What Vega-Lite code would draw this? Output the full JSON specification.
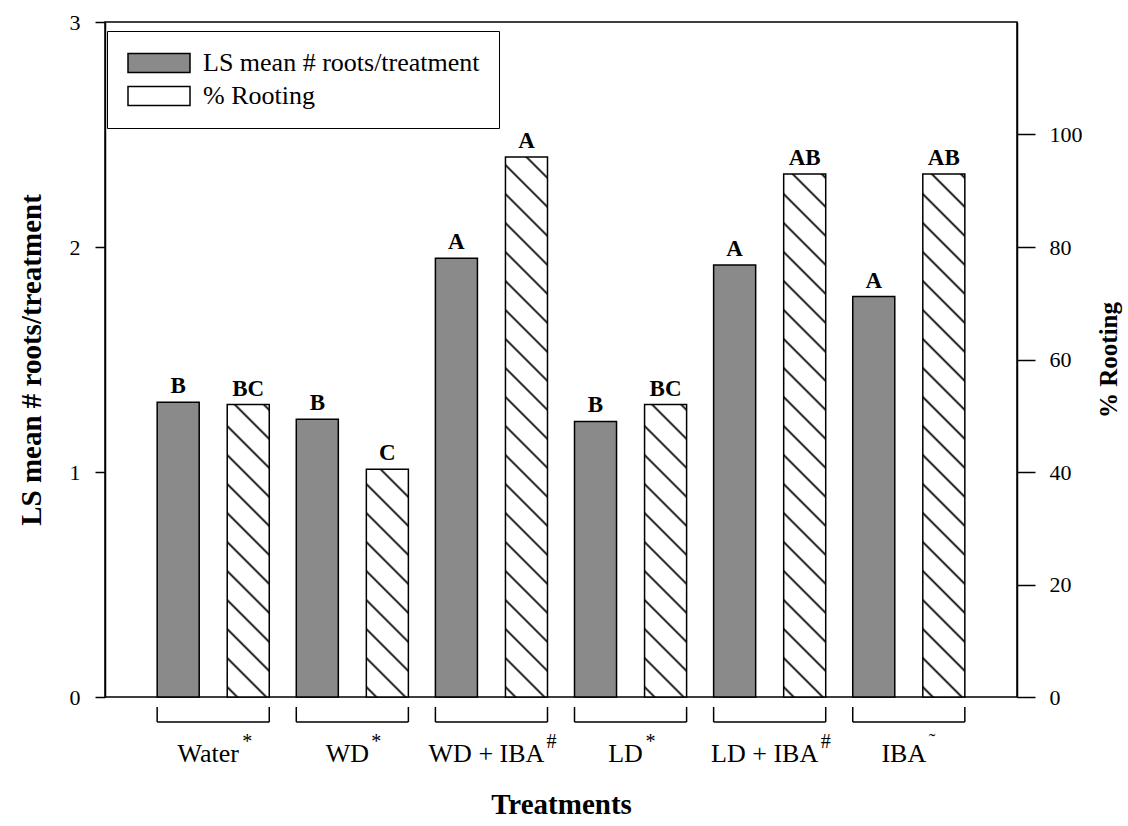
{
  "$schema": "https://vega.github.io/schema/vega-lite/v6.json",
  "width": 912,
  "height": 675,
  "autosize": {"type": "none"},
  "padding": {"left": 105, "top": 22, "right": 111, "bottom": 129},
  "background": "white",
  "config": {
    "view": {"stroke": "black", "strokeWidth": 1.5},
    "font": "Liberation Serif",
    "axis": {"labelFont": "Liberation Serif", "titleFont": "Liberation Serif", "labelColor": "black", "titleColor": "black", "domainColor": "black", "tickColor": "black", "domainWidth": 1.5, "tickWidth": 1.5, "grid": false},
    "legend": {"labelFont": "Liberation Serif", "labelColor": "black"}
  },
  "datasets": {
    "bars": [
      {"t": "Water", "series": "LS", "value": 1.31, "letter": "B"},
      {"t": "Water", "series": "Rooting", "value": 52, "letter": "BC"},
      {"t": "WD", "series": "LS", "value": 1.235, "letter": "B"},
      {"t": "WD", "series": "Rooting", "value": 40.5, "letter": "C"},
      {"t": "WD + IBA", "series": "LS", "value": 1.95, "letter": "A"},
      {"t": "WD + IBA", "series": "Rooting", "value": 96, "letter": "A"},
      {"t": "LD", "series": "LS", "value": 1.225, "letter": "B"},
      {"t": "LD", "series": "Rooting", "value": 52, "letter": "BC"},
      {"t": "LD + IBA", "series": "LS", "value": 1.92, "letter": "A"},
      {"t": "LD + IBA", "series": "Rooting", "value": 93, "letter": "AB"},
      {"t": "IBA", "series": "LS", "value": 1.78, "letter": "A"},
      {"t": "IBA", "series": "Rooting", "value": 93, "letter": "AB"}
    ],
    "groups": [
      {"t": "Water", "sup": "*"},
      {"t": "WD", "sup": "*"},
      {"t": "WD + IBA", "sup": "#"},
      {"t": "LD", "sup": "*"},
      {"t": "LD + IBA", "sup": "#"},
      {"t": "IBA", "sup": "˜"}
    ]
  },
  "layer": [
    {
      "layer": [
        {
          "data": {"name": "bars"},
          "transform": [{"filter": "datum.series == 'LS'"}],
          "mark": {"type": "bar", "stroke": "black", "strokeWidth": 1.5},
          "encoding": {
            "x": {"field": "t", "type": "nominal", "sort": null,
              "scale": {"domain": ["Water", "WD", "WD + IBA", "LD", "LD + IBA", "IBA"], "paddingInner": 0.19424, "paddingOuter": 0.375},
              "axis": {"title": "Treatments", "labels": false, "ticks": false, "domain": false, "titleFontSize": 29, "titleFontWeight": "bold", "titlePadding": 93}},
            "xOffset": {"field": "series", "type": "nominal", "scale": {"domain": ["LS", "Rooting"], "paddingInner": 0.4, "paddingOuter": 0}},
            "y": {"field": "value", "type": "quantitative", "scale": {"domain": [0, 3]},
              "axis": {"orient": "left", "title": "LS mean # roots/treatment", "values": [0, 1, 2, 3], "format": "d",
                "tickSize": 10, "labelFontSize": 22, "labelPadding": 15,
                "titleFontSize": 29, "titleFontWeight": "bold", "titleAngle": 270, "titleX": -74, "titleY": 337.5, "titleAlign": "center", "titleBaseline": "middle"}},
            "fill": {"datum": "LS mean # roots/treatment", "type": "nominal",
              "scale": {"domain": ["LS mean # roots/treatment", "% Rooting"], "range": ["#8a8a8a", "white"]},
              "legend": {"title": null, "orient": "none", "legendX": 2, "legendY": 9, "padding": 19, "strokeColor": "black", "fillColor": "white",
                "labelFontSize": 26, "labelLimit": 500, "labelOffset": 31, "rowPadding": 7,
                "symbolType": "M-3.263,-1H3.263V1H-3.263Z", "symbolSize": 361, "symbolOffset": 20, "symbolStrokeWidth": 1.5,
                "encode": {
                  "legend": {"update": {"strokeWidth": {"value": 1.5}}},
                  "symbols": {"update": {"stroke": {"value": "black"}, "strokeWidth": {"value": 1.5}}}}}}
          }
        },
        {
          "data": {"name": "bars"},
          "transform": [{"filter": "datum.series == 'LS'"}],
          "mark": {"type": "text", "fontWeight": "bold", "fontSize": 23, "baseline": "alphabetic", "dy": -9, "color": "black"},
          "encoding": {
            "x": {"field": "t", "type": "nominal", "sort": null},
            "xOffset": {"field": "series", "type": "nominal"},
            "y": {"field": "value", "type": "quantitative"},
            "text": {"field": "letter"}
          }
        },
        {
          "data": {"name": "groups"},
          "mark": {"type": "rule", "stroke": "black", "strokeWidth": 1.5},
          "encoding": {
            "x": {"field": "t", "type": "nominal", "sort": null, "bandPosition": 0},
            "y": {"datum": -0.1111},
            "y2": {"datum": -0.0444}
          }
        },
        {
          "data": {"name": "groups"},
          "mark": {"type": "rule", "stroke": "black", "strokeWidth": 1.5},
          "encoding": {
            "x": {"field": "t", "type": "nominal", "sort": null, "bandPosition": 1},
            "y": {"datum": -0.1111},
            "y2": {"datum": -0.0444}
          }
        },
        {
          "data": {"name": "groups"},
          "mark": {"type": "bar", "fill": "black", "stroke": "black", "strokeWidth": 1.5},
          "encoding": {
            "x": {"field": "t", "type": "nominal", "sort": null},
            "y": {"datum": -0.1111},
            "y2": {"datum": -0.1111}
          }
        },
        {
          "data": {"name": "groups"},
          "mark": {"type": "text", "fontSize": 26, "baseline": "alphabetic", "align": "center", "dx": -5, "color": "black"},
          "encoding": {
            "x": {"field": "t", "type": "nominal", "sort": null},
            "y": {"datum": -0.2889},
            "text": {"field": "t"}
          }
        },
        {
          "data": {"name": "groups"},
          "mark": {"type": "text", "fontSize": 20, "baseline": "alphabetic", "align": "left", "color": "black",
            "dx": {"expr": "datum.t == 'Water' ? 29 : datum.t == 'WD' ? 19 : datum.t == 'WD + IBA' ? 55 : datum.t == 'LD' ? 15 : datum.t == 'LD + IBA' ? 51 : 20"}},
          "encoding": {
            "x": {"field": "t", "type": "nominal", "sort": null},
            "y": {"datum": -0.2267},
            "text": {"field": "sup"}
          }
        }
      ]
    },
    {
      "layer": [
        {
          "data": {"name": "bars"},
          "transform": [{"filter": "datum.series == 'Rooting'"}],
          "mark": {"type": "bar", "stroke": "black", "strokeWidth": 1.5},
          "encoding": {
            "x": {"field": "t", "type": "nominal", "sort": null},
            "xOffset": {"field": "series", "type": "nominal"},
            "y": {"field": "value", "type": "quantitative", "scale": {"domain": [0, 120]},
              "axis": {"orient": "right", "title": "% Rooting", "values": [0, 20, 40, 60, 80, 100], "tickSize": 18, "labelPadding": 14, "labelFontSize": 22,
                "titleFontSize": 25, "titleFontWeight": "bold", "titleAngle": 270, "titleX": 91, "titleY": 337.5, "titleAlign": "center", "titleBaseline": "middle"}},
            "fill": {
              "condition": [
                {"test": "datum.value > 95", "value": {"gradient": "linear", "x1": 0, "y1": 1, "x2": 0.0859, "y2": -0.10443, "stops": [{"offset":0.0125,"color":"#fff"},{"offset":0.01667,"color":"#000"},{"offset":0.02083,"color":"#fff"},{"offset":0.06083,"color":"#fff"},{"offset":0.065,"color":"#000"},{"offset":0.06917,"color":"#fff"},{"offset":0.10917,"color":"#fff"},{"offset":0.11333,"color":"#000"},{"offset":0.1175,"color":"#fff"},{"offset":0.1575,"color":"#fff"},{"offset":0.16167,"color":"#000"},{"offset":0.16583,"color":"#fff"},{"offset":0.20583,"color":"#fff"},{"offset":0.21,"color":"#000"},{"offset":0.21417,"color":"#fff"},{"offset":0.25417,"color":"#fff"},{"offset":0.25833,"color":"#000"},{"offset":0.2625,"color":"#fff"},{"offset":0.3025,"color":"#fff"},{"offset":0.30667,"color":"#000"},{"offset":0.31083,"color":"#fff"},{"offset":0.35083,"color":"#fff"},{"offset":0.355,"color":"#000"},{"offset":0.35917,"color":"#fff"},{"offset":0.39917,"color":"#fff"},{"offset":0.40333,"color":"#000"},{"offset":0.4075,"color":"#fff"},{"offset":0.4475,"color":"#fff"},{"offset":0.45167,"color":"#000"},{"offset":0.45583,"color":"#fff"},{"offset":0.49583,"color":"#fff"},{"offset":0.5,"color":"#000"},{"offset":0.50417,"color":"#fff"},{"offset":0.54417,"color":"#fff"},{"offset":0.54833,"color":"#000"},{"offset":0.5525,"color":"#fff"},{"offset":0.5925,"color":"#fff"},{"offset":0.59667,"color":"#000"},{"offset":0.60083,"color":"#fff"},{"offset":0.64083,"color":"#fff"},{"offset":0.645,"color":"#000"},{"offset":0.64917,"color":"#fff"},{"offset":0.68917,"color":"#fff"},{"offset":0.69333,"color":"#000"},{"offset":0.6975,"color":"#fff"},{"offset":0.7375,"color":"#fff"},{"offset":0.74167,"color":"#000"},{"offset":0.74583,"color":"#fff"},{"offset":0.78583,"color":"#fff"},{"offset":0.79,"color":"#000"},{"offset":0.79417,"color":"#fff"},{"offset":0.83417,"color":"#fff"},{"offset":0.83833,"color":"#000"},{"offset":0.8425,"color":"#fff"},{"offset":0.8825,"color":"#fff"},{"offset":0.88667,"color":"#000"},{"offset":0.89083,"color":"#fff"},{"offset":0.93083,"color":"#fff"},{"offset":0.935,"color":"#000"},{"offset":0.93917,"color":"#fff"},{"offset":0.97917,"color":"#fff"},{"offset":0.98333,"color":"#000"},{"offset":0.9875,"color":"#fff"}]}},
                {"test": "datum.value > 90", "value": {"gradient": "linear", "x1": 0, "y1": 1, "x2": 0.091495, "y2": -0.139608, "stops": [{"offset":0.0125,"color":"#fff"},{"offset":0.01667,"color":"#000"},{"offset":0.02083,"color":"#fff"},{"offset":0.06083,"color":"#fff"},{"offset":0.065,"color":"#000"},{"offset":0.06917,"color":"#fff"},{"offset":0.10917,"color":"#fff"},{"offset":0.11333,"color":"#000"},{"offset":0.1175,"color":"#fff"},{"offset":0.1575,"color":"#fff"},{"offset":0.16167,"color":"#000"},{"offset":0.16583,"color":"#fff"},{"offset":0.20583,"color":"#fff"},{"offset":0.21,"color":"#000"},{"offset":0.21417,"color":"#fff"},{"offset":0.25417,"color":"#fff"},{"offset":0.25833,"color":"#000"},{"offset":0.2625,"color":"#fff"},{"offset":0.3025,"color":"#fff"},{"offset":0.30667,"color":"#000"},{"offset":0.31083,"color":"#fff"},{"offset":0.35083,"color":"#fff"},{"offset":0.355,"color":"#000"},{"offset":0.35917,"color":"#fff"},{"offset":0.39917,"color":"#fff"},{"offset":0.40333,"color":"#000"},{"offset":0.4075,"color":"#fff"},{"offset":0.4475,"color":"#fff"},{"offset":0.45167,"color":"#000"},{"offset":0.45583,"color":"#fff"},{"offset":0.49583,"color":"#fff"},{"offset":0.5,"color":"#000"},{"offset":0.50417,"color":"#fff"},{"offset":0.54417,"color":"#fff"},{"offset":0.54833,"color":"#000"},{"offset":0.5525,"color":"#fff"},{"offset":0.5925,"color":"#fff"},{"offset":0.59667,"color":"#000"},{"offset":0.60083,"color":"#fff"},{"offset":0.64083,"color":"#fff"},{"offset":0.645,"color":"#000"},{"offset":0.64917,"color":"#fff"},{"offset":0.68917,"color":"#fff"},{"offset":0.69333,"color":"#000"},{"offset":0.6975,"color":"#fff"},{"offset":0.7375,"color":"#fff"},{"offset":0.74167,"color":"#000"},{"offset":0.74583,"color":"#fff"},{"offset":0.78583,"color":"#fff"},{"offset":0.79,"color":"#000"},{"offset":0.79417,"color":"#fff"},{"offset":0.83417,"color":"#fff"},{"offset":0.83833,"color":"#000"},{"offset":0.8425,"color":"#fff"},{"offset":0.8825,"color":"#fff"},{"offset":0.88667,"color":"#000"},{"offset":0.89083,"color":"#fff"},{"offset":0.93083,"color":"#fff"},{"offset":0.935,"color":"#000"},{"offset":0.93917,"color":"#fff"},{"offset":0.97917,"color":"#fff"},{"offset":0.98333,"color":"#000"},{"offset":0.9875,"color":"#fff"}]}},
                {"test": "datum.value > 45", "value": {"gradient": "linear", "x1": 0, "y1": 1, "x2": 0.288593, "y2": -1.009843, "stops": [{"offset":0.0125,"color":"#fff"},{"offset":0.01667,"color":"#000"},{"offset":0.02083,"color":"#fff"},{"offset":0.06083,"color":"#fff"},{"offset":0.065,"color":"#000"},{"offset":0.06917,"color":"#fff"},{"offset":0.10917,"color":"#fff"},{"offset":0.11333,"color":"#000"},{"offset":0.1175,"color":"#fff"},{"offset":0.1575,"color":"#fff"},{"offset":0.16167,"color":"#000"},{"offset":0.16583,"color":"#fff"},{"offset":0.20583,"color":"#fff"},{"offset":0.21,"color":"#000"},{"offset":0.21417,"color":"#fff"},{"offset":0.25417,"color":"#fff"},{"offset":0.25833,"color":"#000"},{"offset":0.2625,"color":"#fff"},{"offset":0.3025,"color":"#fff"},{"offset":0.30667,"color":"#000"},{"offset":0.31083,"color":"#fff"},{"offset":0.35083,"color":"#fff"},{"offset":0.355,"color":"#000"},{"offset":0.35917,"color":"#fff"},{"offset":0.39917,"color":"#fff"},{"offset":0.40333,"color":"#000"},{"offset":0.4075,"color":"#fff"},{"offset":0.4475,"color":"#fff"},{"offset":0.45167,"color":"#000"},{"offset":0.45583,"color":"#fff"},{"offset":0.49583,"color":"#fff"},{"offset":0.5,"color":"#000"},{"offset":0.50417,"color":"#fff"},{"offset":0.54417,"color":"#fff"},{"offset":0.54833,"color":"#000"},{"offset":0.5525,"color":"#fff"}]}},
                {"test": "datum.value <= 45", "value": {"gradient": "linear", "x1": 0, "y1": 1, "x2": 0.469602, "y2": -1.54717, "stops": [{"offset":0.0125,"color":"#fff"},{"offset":0.01667,"color":"#000"},{"offset":0.02083,"color":"#fff"},{"offset":0.06083,"color":"#fff"},{"offset":0.065,"color":"#000"},{"offset":0.06917,"color":"#fff"},{"offset":0.10917,"color":"#fff"},{"offset":0.11333,"color":"#000"},{"offset":0.1175,"color":"#fff"},{"offset":0.1575,"color":"#fff"},{"offset":0.16167,"color":"#000"},{"offset":0.16583,"color":"#fff"},{"offset":0.20583,"color":"#fff"},{"offset":0.21,"color":"#000"},{"offset":0.21417,"color":"#fff"},{"offset":0.25417,"color":"#fff"},{"offset":0.25833,"color":"#000"},{"offset":0.2625,"color":"#fff"},{"offset":0.3025,"color":"#fff"},{"offset":0.30667,"color":"#000"},{"offset":0.31083,"color":"#fff"},{"offset":0.35083,"color":"#fff"},{"offset":0.355,"color":"#000"},{"offset":0.35917,"color":"#fff"},{"offset":0.39917,"color":"#fff"},{"offset":0.40333,"color":"#000"},{"offset":0.4075,"color":"#fff"},{"offset":0.4475,"color":"#fff"},{"offset":0.45167,"color":"#000"},{"offset":0.45583,"color":"#fff"}]}}
              ],
              "datum": "% Rooting", "type": "nominal"
            }
          }
        },
        {
          "data": {"name": "bars"},
          "transform": [{"filter": "datum.series == 'Rooting'"}],
          "mark": {"type": "text", "fontWeight": "bold", "fontSize": 23, "baseline": "alphabetic", "dy": -9, "color": "black"},
          "encoding": {
            "x": {"field": "t", "type": "nominal", "sort": null},
            "xOffset": {"field": "series", "type": "nominal"},
            "y": {"field": "value", "type": "quantitative"},
            "text": {"field": "letter"}
          }
        }
      ]
    }
  ],
  "resolve": {"scale": {"y": "independent"}}
}
